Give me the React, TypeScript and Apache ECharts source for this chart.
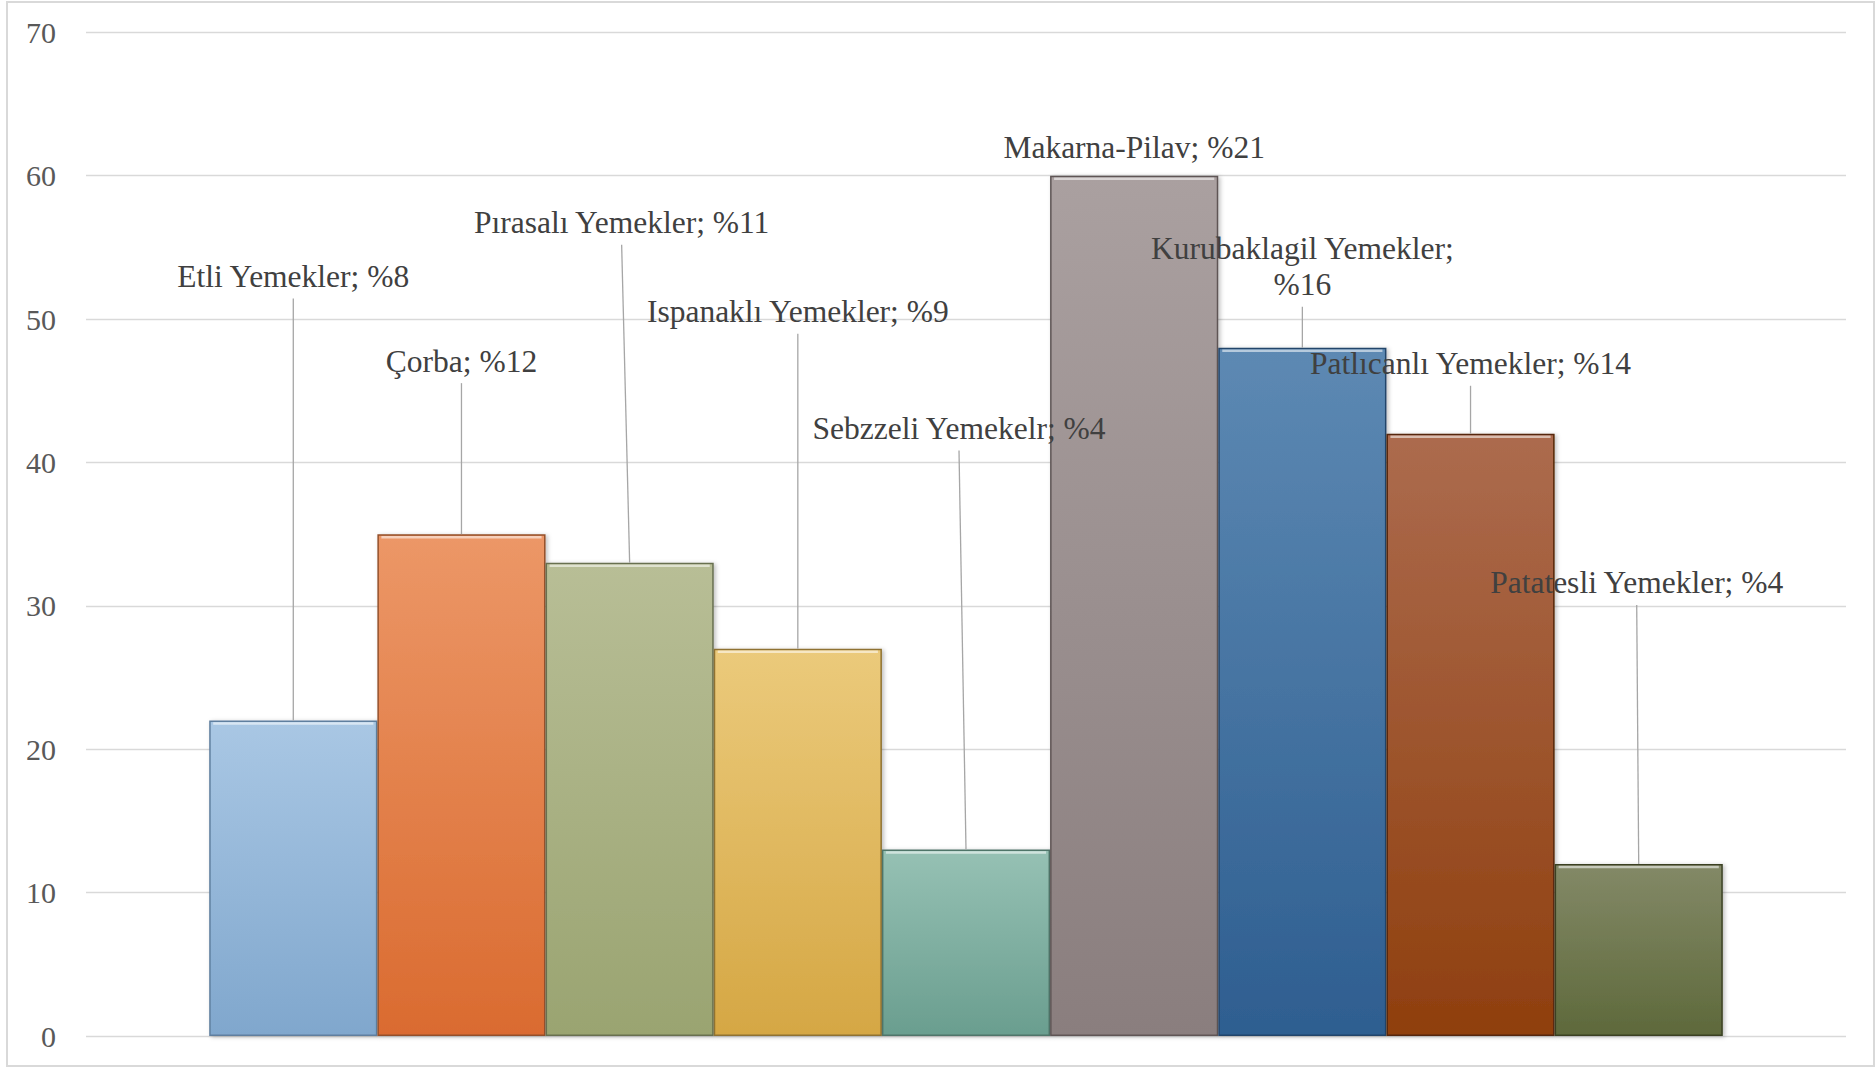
import React, { useEffect, useRef } from "react";
import * as echarts from "echarts";

// ---- data ----
const categories = ["Etli Yemekler", "Çorba", "Pırasalı Yemekler", "Ispanaklı Yemekler", "Sebzzeli Yemekelr", "Makarna-Pilav", "Kurubaklagil Yemekler", "Patlıcanlı Yemekler", "Patatesli Yemekler"];
const values = [22, 35, 33, 27, 13, 60, 48, 42, 12];
const percents = [8, 12, 11, 9, 4, 21, 16, 14, 4];
const yTicks = [0, 10, 20, 30, 40, 50, 60, 70];

// ---- styles / label layout (px) ----
const topColors = ["#A9C7E4", "#EC9767", "#B8BE96", "#EBCA7B", "#96C1B4", "#AAA0A0", "#5D89B3", "#AC6B4E", "#838967"];
const bottomColors = ["#80A7CD", "#DA6B30", "#9AA471", "#D5A744", "#6A9E8F", "#8A7E7E", "#2E5E90", "#8F3F0E", "#5E693B"];
const borderColors = ["#5F7F9F", "#94502A", "#687050", "#8F7232", "#4F7569", "#5E5454", "#22446A", "#55260A", "#3A4124"];
const labelLift = [444, 173, 340, 337, 421, 28, 81, 70, 281];
const labelDx = [0, 0, -8, 0, -7, 0, 0, 0, -2];
const showLeader = [true, true, true, true, true, false, true, true, true];
const labelLines = [1, 1, 1, 1, 1, 1, 2, 1, 1];
const CAT_GAP = 0.14;

function labelText(i: number) {
  const sep = labelLines[i] > 1 ? "\n" : " ";
  return categories[i] + ";" + sep + "%" + percents[i];
}

export default function App() {
  const ref = useRef<HTMLDivElement>(null);
  useEffect(() => {
    if (!ref.current) return;
    const chart = echarts.init(ref.current, undefined, { renderer: "svg" });
    const n = values.length;
    const font = '31.5px "Liberation Serif", "Times New Roman", serif';
    const lineH = 36;

    const barSeries = values.map((v, i) => ({
      type: "bar",
      name: categories[i],
      data: [v],
      barGap: "0%",
      barCategoryGap: CAT_GAP * 100 + "%",
      itemStyle: {
        color: new echarts.graphic.LinearGradient(0, 0, 0, 1, [
          { offset: 0, color: topColors[i] },
          { offset: 1, color: bottomColors[i] },
        ]),
        borderColor: borderColors[i],
        borderWidth: 1.5,
        shadowColor: "rgba(0,0,0,0.25)",
        shadowBlur: 4,
        shadowOffsetX: 2,
        shadowOffsetY: 1,
      },
      z: 2,
    }));

    const overlay = {
      type: "custom",
      z: 5,
      silent: true,
      data: values.map((v, i) => [0, v, i]),
      encode: { x: 0, y: 1 },
      renderItem: (params: any, api: any) => {
        const i = api.value(2);
        const v = api.value(1);
        const c = api.coord([0, v]);
        const band = api.size([1, 0])[0];
        const barW = (band * (1 - CAT_GAP)) / n;
        const bx = c[0] - (band * (1 - CAT_GAP)) / 2 + (i + 0.5) * barW;
        const top = c[1];
        const tx = bx + labelDx[i];
        const ty = top - labelLift[i];
        const children: any[] = [
          {
            type: "line",
            shape: { x1: bx - barW / 2 + 4, y1: top + 3, x2: bx + barW / 2 - 4, y2: top + 3 },
            style: { stroke: "rgba(255,255,255,0.55)", lineWidth: 2.5 },
          },
        ];
        if (showLeader[i]) {
          children.push({
            type: "line",
            shape: { x1: tx, y1: ty + (labelLines[i] * lineH) / 2 + 4, x2: bx, y2: top },
            style: { stroke: "#A6A6A6", lineWidth: 1.3 },
          });
        }
        children.push({
          type: "text",
          style: {
            text: labelText(i),
            x: tx,
            y: ty,
            align: "center",
            verticalAlign: "middle",
            font,
            lineHeight: lineH,
            fill: "#404040",
          },
        });
        return { type: "group", children };
      },
    };

    chart.setOption({
      animation: false,
      backgroundColor: "#ffffff",
      grid: { left: 86, right: 30, top: 32.3, bottom: 32, containLabel: false },
      xAxis: {
        type: "category",
        data: [""],
        axisLine: { show: false },
        axisTick: { show: false },
        axisLabel: { show: false },
      },
      yAxis: {
        type: "value",
        min: yTicks[0],
        max: yTicks[yTicks.length - 1],
        interval: 10,
        axisLine: { show: false },
        axisTick: { show: false },
        axisLabel: {
          margin: 30,
          color: "#595959",
          fontSize: 30,
          fontFamily: '"Liberation Serif", "Times New Roman", serif',
        },
        splitLine: { lineStyle: { color: "#D9D9D9", width: 1.3 } },
      },
      graphic: [
        {
          type: "rect",
          shape: { x: 7, y: 2, width: 1867, height: 1064 },
          style: { fill: "none", stroke: "#D9D9D9", lineWidth: 2 },
          silent: true,
        },
      ],
      series: [...barSeries, overlay],
    });
    return () => chart.dispose();
  }, []);
  return (
    <div
      ref={ref}
      style={{ position: "fixed", left: 0, top: 0, width: "1876px", height: "1068px" }}
    />
  );
}
